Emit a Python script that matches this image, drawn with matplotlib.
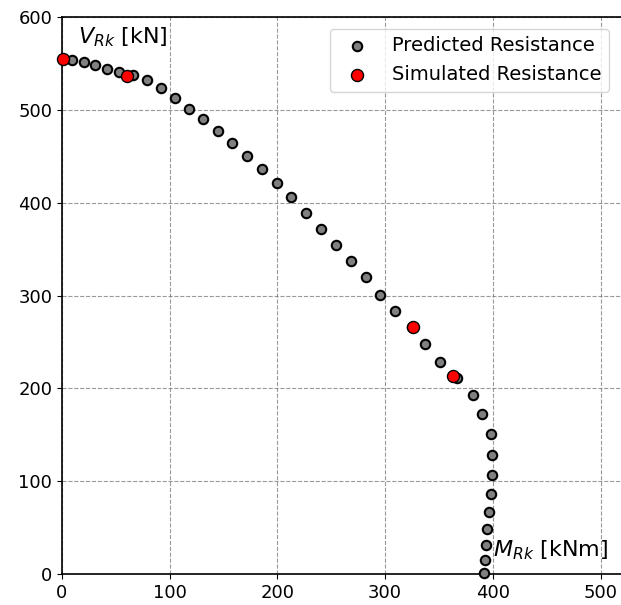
import matplotlib.pyplot as plt

# Predicted resistance (M_Rk, V_Rk)
pred_m = [9.6, 20.1, 30.9, 41.7, 53.2, 66.2, 78.9, 91.8, 104.5, 117.5, 130.8, 144.4,
          158.0, 171.6, 185.5, 199.2, 213.0, 227.0, 240.3, 254.5, 268.1, 282.0,
          295.6, 309.2, 324.5, 337.0, 351.3, 366.7, 381.5, 390.2, 398.3, 398.9,
          399.2, 398.0, 396.1, 394.6, 393.6, 392.7, 391.5]
pred_v = [553.9, 551.0, 548.0, 544.5, 541.0, 537.0, 532.0, 523.5, 512.5, 501.0, 489.7, 477.5,
          464.3, 450.3, 436.0, 421.0, 406.0, 388.6, 371.4, 354.8, 337.5, 319.6,
          301.0, 283.7, 265.6, 247.5, 228.8, 210.8, 192.9, 172.0, 150.9, 127.9,
          106.3, 85.9, 66.5, 48.5, 31.6, 15.4, 0.7]

# Simulated resistance
sim_m = [0.6, 60.3, 326.0, 363.4]
sim_v = [555.0, 536.5, 266.1, 213.7]

fig = plt.figure(figsize=(6.21, 6.05), dpi=100)
ax = fig.add_axes([0.0998, 0.0512, 0.9002, 0.9207])

ax.scatter(pred_m, pred_v, s=46, c='gray', edgecolors='black', linewidths=1.5,
           zorder=3, label='Predicted Resistance', clip_on=False)
ax.scatter(sim_m, sim_v, s=75, c='red', edgecolors='black', linewidths=1.0,
           zorder=4, label='Simulated Resistance', clip_on=False)

ax.set_xlim(0, 519)
ax.set_ylim(0, 600)
ax.set_xticks([0, 100, 200, 300, 400, 500])
ax.set_yticks([0, 100, 200, 300, 400, 500, 600])
ax.tick_params(labelsize=13)
ax.grid(True, linestyle='--', color='gray', linewidth=0.8, alpha=0.8)
ax.set_axisbelow(True)
ax.spines['right'].set_visible(False)
for sp in ['left', 'bottom', 'top']:
    ax.spines[sp].set_linewidth(1.2)

ax.text(15, 578, r'$V_{Rk}$ [kN]', fontsize=16, ha='left', va='center')
ax.text(400, 26, r'$M_{Rk}$ [kNm]', fontsize=16, ha='left', va='center')

ax.legend(loc='upper right', fontsize=14, borderaxespad=0.6)

fig.savefig('out.png', dpi=100)
